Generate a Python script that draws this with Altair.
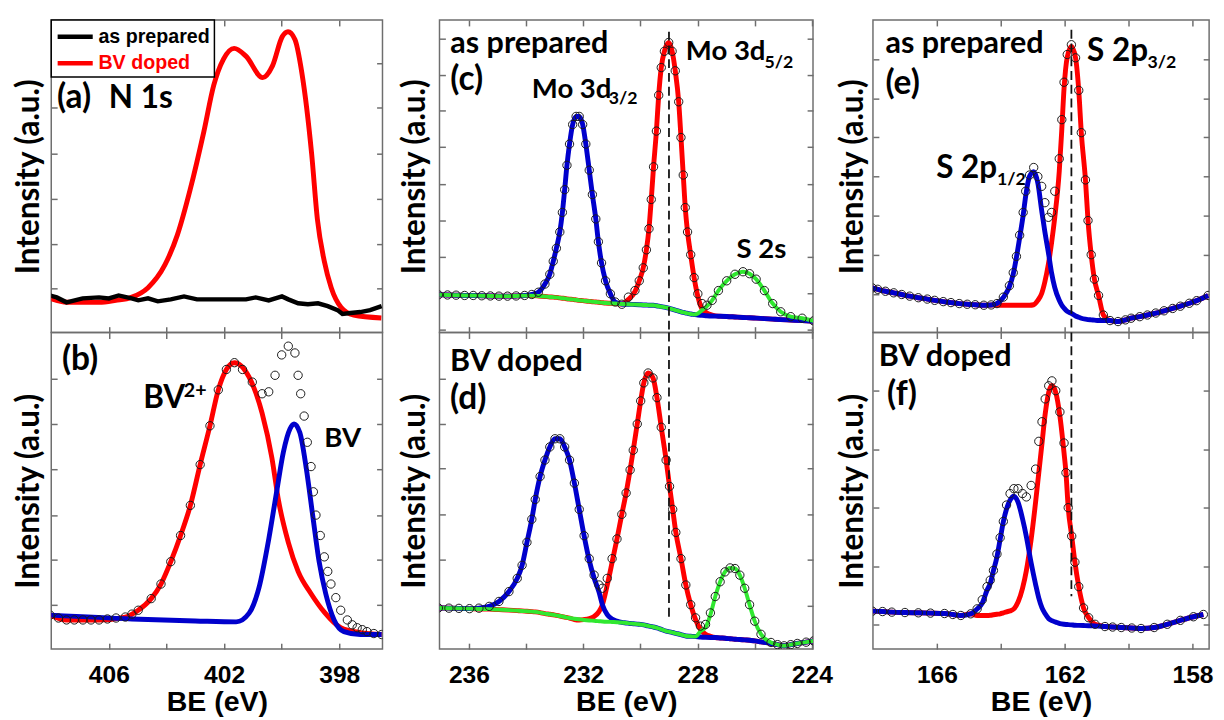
import altair as alt
import pandas as pd

# ---------------- (a) N 1s survey ----------------
a_prep_be = [408.04, 407.81, 407.47, 406.91, 406.34, 406.0, 405.66, 405.21, 404.98, 404.64, 404.30,
             403.85, 403.39, 402.94, 402.37, 401.81, 401.24, 400.90, 400.45, 399.99, 399.77, 399.43,
             399.09, 398.74, 398.40, 398.06, 397.89, 397.61, 397.27, 396.93, 396.53]
a_prep = [38, 36, 31, 35, 36, 35, 38, 35, 33, 35, 32, 34, 37, 34, 34, 34, 34, 36, 33, 37, 34, 30,
          29, 30, 27, 23, 19, 20, 21, 23, 27]
a_doped_be = [408.04, 407.46, 406.34, 405.76, 405.22, 404.64, 404.06, 403.62, 403.18, 402.70, 402.36,
              402.02, 401.65, 401.24, 400.66, 400.32, 399.98, 399.78, 399.54, 399.30, 398.96, 398.76,
              398.52, 398.28, 397.94, 397.50, 396.54]
a_doped = [35, 31, 31, 33, 36, 46, 69, 100, 146, 206, 253, 280, 291, 283, 261, 273, 303, 308, 300,
           266, 183, 116, 73, 46, 26, 18, 15]
a_series = ["as prepared", "BV doped"]

# ---------------- (b) N 1s fit ----------------
b_be = [408.04, 407.75, 407.47, 407.2, 406.9, 406.62, 406.34, 406.05, 405.75, 405.43, 405.2, 404.98,
        404.53, 404.19, 403.85, 403.51, 403.17, 402.83, 402.49, 402.20, 401.92, 401.64, 401.36, 401.02,
        400.68, 400.45, 400.23, 400.00, 399.77, 399.54, 399.43, 399.34, 399.22, 399.11, 398.98, 398.90,
        398.81, 398.66, 398.52, 398.40, 398.29, 398.12, 397.95, 397.72, 397.55, 397.38, 397.2, 397.04,
        396.8, 396.53]
b_data = [35, 32, 30, 30, 30, 30, 30, 31, 32, 33, 36, 40, 52, 67, 90, 117, 148, 190, 230, 267, 288,
          295, 288, 275, 263, 265, 282, 303, 312, 305, 282, 263, 240, 213, 188, 162, 138, 117, 95, 80,
          67, 53, 40, 30, 25, 22, 20, 18, 16, 15]
b_bv2_be = [408.04, 407.47, 406.34, 405.43, 404.98, 404.53, 404.19, 403.85, 403.51, 403.17, 402.83,
            402.49, 402.20, 401.92, 401.64, 401.13, 400.68, 400.34, 400.11, 399.77, 399.43, 398.98,
            398.52, 397.95, 397.27, 396.53]
b_bv2 = [35, 30, 30, 33, 40, 52, 67, 90, 117, 148, 190, 230, 267, 288, 295, 280, 243, 197, 153, 110,
         80, 57, 38, 22, 17, 15]
b_bv_be = [408.04, 405.2, 403.0, 401.58, 401.13, 400.79, 400.45, 400.17, 399.94, 399.71, 399.57,
           399.37, 399.15, 398.92, 398.70, 398.47, 398.18, 397.84, 397.27, 396.53]
b_bv = [35, 31, 29, 28, 37, 63, 113, 163, 203, 227, 232, 223, 187, 137, 90, 57, 30, 18, 15, 15]

# ---------------- (c) Mo 3d, as prepared ----------------
c_be = [237.07, 236.75, 236.45, 236.15, 235.85, 235.55, 235.25, 234.95, 234.65, 234.35, 234.05, 233.8,
        233.57, 233.34, 233.17, 233.05, 232.94, 232.82, 232.73, 232.65, 232.57, 232.48, 232.37, 232.25,
        232.14, 232.02, 231.91, 231.79, 231.68, 231.56, 231.47, 231.36, 231.22, 231.05, 230.88, 230.65,
        230.42, 230.19, 230.04, 229.90, 229.79, 229.70, 229.62, 229.54, 229.44, 229.36, 229.27, 229.16,
        229.01, 228.89, 228.78, 228.66, 228.58, 228.50, 228.43, 228.35, 228.24, 228.12, 227.99, 227.84,
        227.67, 227.49, 227.27, 226.98, 226.69, 226.41, 226.18, 225.95, 225.66, 225.37, 225.09, 224.74,
        224.34, 223.94]
c_data = [38.7, 38.5, 38.3, 38, 38, 37.7, 37.5, 37.3, 37.3, 37.5, 38, 39,
          41.3, 49.7, 59.7, 73, 86.3, 103, 123, 146.3, 171.3, 193, 213, 221.3, 221.3, 213, 193, 166.3,
          141.3, 116.3, 93, 71.3, 53, 39.7, 31.3, 29, 36.3, 43, 53, 66.3, 84.7, 106.3, 136.3, 169.7,
          206.3, 243, 271.3, 288, 297, 288, 268, 236.3, 199.7, 161.3, 128, 103, 79.7, 56.3, 39.7, 29.7,
          28, 33, 43, 53, 59.7, 62.3, 60.3, 54.7, 43, 29.7, 21.3, 16.3, 14.7, 12]
c_blue = [38.7, 38.5, 38.3, 38, 38, 37.7, 37.5, 37.3, 37.3, 37.5, 38, 39,
          41.3, 49.7, 59.7, 73, 86.3, 103, 123, 146.3, 171.3, 193, 213, 221.3, 221.3, 213, 193, 166.3,
          141.3, 116.3, 93, 71.3, 53, 39.7, 31.3,
          29.3, 29, 28.7, 28.5, 28.3, 28.2, 28, 28, 28, 27.5, 27, 26.5, 26, 25, 24, 23, 22, 21.3, 20.7,
          20.2, 19.7, 19, 18.5, 18, 17.7, 17.3, 17, 16.8, 16.5, 16, 15.5, 15.2, 14.8, 14.3, 13.8, 13.3,
          12.8, 12.2, 11.5]
c_red = [38.7, 38.5, 38.3, 38, 38, 37.7, 37.5, 37.3, 37.3, 37.5, 37.8, 37.8,
         37.5, 37, 36.5, 36.3, 36, 35.5, 35.2, 35, 34.5, 34.2, 34, 33.5, 33, 32.7, 32.3, 32, 31.6, 31.3,
         31, 30.7, 30.3, 30, 29.7,
         29.3, 34, 42,
         53, 66.3, 84.7, 106.3, 136.3, 169.7, 206.3, 243, 271.3, 288, 297, 288, 268, 236.3, 199.7, 161.3,
         128, 103, 79.7, 56.3,
         37, 24, 20, 18,
         16.8, 16.5, 16, 15.5, 15.2, 14.8, 14.3, 13.8, 13.3, 12.8, 12.2, 11.5]
c_green = [38.7, 38.5, 38.3, 38, 38, 37.7, 37.5, 37.3, 37.3, 37.5, 37.8, 37.8,
           37.5, 37, 36.5, 36.3, 36, 35.5, 35.2, 35, 34.5, 34.2, 34, 33.5, 33, 32.7, 32.3, 32, 31.6,
           31.3, 31, 30.7, 30.3, 30, 29.7, 29.3, 29, 28.7, 28.5, 28.3, 28.2, 28, 28, 28, 27.5, 27, 26.5,
           26, 25, 24, 23, 22, 21.3, 20.7, 20.2, 19.7, 19, 18.5,
           19.5, 23, 27,
           33, 43, 53, 59.7, 62.3, 60.3, 54.7, 43, 29.7, 21.3, 16.3, 14.7, 12]

# ---------------- (d) Mo 3d, BV doped ----------------
d_be = [237.07, 236.7, 236.35, 235.98, 235.65, 235.29, 234.95, 234.60, 234.31, 234.14, 233.97, 233.80,
        233.68, 233.51, 233.34, 233.17, 232.99, 232.82, 232.65, 232.48, 232.31, 232.14, 231.97, 231.79,
        231.62, 231.45, 231.33, 231.16, 230.99, 230.82, 230.65, 230.50, 230.36, 230.25, 230.11, 229.99,
        229.88, 229.73, 229.56, 229.42, 229.27, 229.10, 228.98, 228.87, 228.76, 228.58, 228.41, 228.24,
        228.07, 227.90, 227.72, 227.55, 227.38, 227.21, 227.04, 226.86, 226.69, 226.52, 226.35, 226.18,
        226.0, 225.78, 225.43, 225.2, 224.97, 224.74, 224.51, 224.2, 223.94]
d_data = [41.7, 41.5, 41.3, 41, 41.5, 43.3, 48.3, 58.3, 71.7, 85, 108.3, 131.7, 151.7, 175, 191.7, 205,
          213.3, 213.3, 205, 191.7, 168.3, 141.7, 115, 91.7, 75, 65, 61.7, 71.7, 91.7, 111.7, 136.7,
          158.3, 181.7, 201.7, 228.3, 251.7, 270, 280, 275, 255, 225, 191.7, 165, 141.7, 118.3, 91.7, 65,
          45, 31.7, 23.3, 25, 36.7, 53.3, 68.3, 78.3, 82.3, 81.7, 75, 61.7, 45, 28.3, 15, 6.7, 4.5, 3.3,
          4.5, 5.7, 7, 8.3]
d_blue = [41.7, 41.5, 41.3, 41, 41.5, 43.3, 48.3, 58.3, 71.7, 85, 108.3, 131.7, 151.7, 175, 191.7, 205,
          213.3, 213.3, 205, 191.7, 168.3, 141.7, 115, 90,
          72, 58, 45, 35, 30.5, 28.3,
          27, 26.5, 26, 25.7, 25.3, 25, 24.5, 23.5, 22.5, 21.5, 20, 18.3, 17.5, 16.8, 16, 14.7, 13.3, 13,
          12.7, 12.3, 12, 11.8, 11.7, 11.3, 11, 10.5, 10, 9.7, 9.3, 9, 8.3, 7.3, 5.7, 4.5, 3.3, 4.5, 5.7,
          7, 8.3]
d_red = [41.7, 41.5, 41.3, 41, 40.7, 40.5, 40, 39.5, 39, 38.7, 38.3, 38, 37.7, 37, 36, 35.3, 34.5, 33.5,
         32.5, 31.5,
         30, 29.5, 30, 31,
         33, 38, 45, 65, 88,
         111.7, 136.7, 158.3, 181.7, 201.7, 228.3, 251.7, 270, 280, 275, 255, 225, 191.7, 165, 141.7,
         118.3, 91.7, 65, 45,
         30, 20, 15, 13,
         11.7, 11.3, 11, 10.5, 10, 9.7, 9.3, 9, 8.3, 7.3, 5.7, 4.5, 3.3, 4.5, 5.7, 7, 8.3]
d_green = [41.7, 41.5, 41.3, 41, 40.7, 40.5, 40, 39.5, 39, 38.7, 38.3, 38, 37.7, 37, 36, 35.3, 34.5,
           33.5, 32.5, 31.5, 30.8, 30.2, 29.5, 29, 28.7, 28.3, 28, 27.7, 27.5, 27.3, 27, 26.5, 26, 25.7,
           25.3, 25, 24.5, 23.5, 22.5, 21.5, 20, 18.3, 17.5, 16.8, 16, 14.7, 13.3, 13, 12.7,
           18, 22, 35,
           53.3, 68.3, 78.3, 82.3, 81.7, 75, 61.7, 45, 28.3, 15, 6.7, 4.5, 3.3, 4.5, 5.7, 7, 8.3]

# ---------------- (e) S 2p, as prepared ----------------
e_be = [168.02, 167.85, 167.61, 167.35, 167.10, 166.85, 166.58, 166.3, 166.07, 165.8, 165.56, 165.3,
        165.05, 164.8, 164.53, 164.3, 164.12, 163.92, 163.73, 163.61, 163.51, 163.41, 163.30, 163.22,
        163.10, 162.97, 162.84, 162.72, 162.62, 162.51, 162.41, 162.31, 162.17, 162.09, 162.02, 161.92,
        161.79, 161.66, 161.56, 161.48, 161.35, 161.27, 161.17, 161.07, 160.94, 160.79, 160.58, 160.33,
        160.1, 159.92, 159.65, 159.41, 159.15, 158.89, 158.62, 158.38, 158.1, 157.87, 157.51]
e_data = [45.7, 44.3, 42.3, 40.7, 39, 37.3, 35.7, 34.3, 33, 31.7, 30.7, 29.7, 29, 28.5, 28, 28.3, 29.7,
          36.3, 48, 61.3, 78, 99.7, 123, 144.7, 161.3, 169, 159.7, 149.7, 133, 118, 123, 144.7, 178, 218,
          256.3, 284.7, 294.7, 281.3, 248, 204.7, 156.3, 114.7, 79.7, 54.7, 38, 18, 12.3, 11.3, 13, 14.7,
          16.3, 18, 20, 22.3, 24.7, 27, 30, 32.7, 38]
e_blue = [45.7, 44.3, 42.3, 40.7, 39, 37.3, 35.7, 34.3, 33, 31.7, 30.7, 29.7, 29, 28.5, 28, 28.3, 29.7,
          36, 47, 60, 77, 97, 120, 140, 160, 164.7, 153, 125, 103, 82, 61, 46, 33, 28, 25, 21.7, 19.7,
          17, 15.7, 14.7, 13.7, 13.3, 13, 12.7, 12.3, 12.3,
          12.3, 11.3, 13, 14.7, 16.3, 18, 20, 22.3, 24.7, 27, 30, 32.7, 38]
e_red = [45.7, 44.3, 42.3, 40.7, 39, 37.3, 35.7, 34.3, 33, 31.7, 30.7, 29.7, 29, 28.5, 28, 28.3,
         28, 28, 28, 28, 28, 28, 28, 28, 28, 28.5,
         33, 40, 52, 70, 92, 118, 165, 208, 250, 282, 293,
         281.3, 248, 204.7, 156.3, 114.7, 79.7, 54.7, 38, 18, 12.3, 11.3, 13, 14.7, 16.3, 18, 20, 22.3,
         24.7, 27, 30, 32.7, 38]

# ---------------- (f) S 2p, BV doped ----------------
f_be = [168.02, 167.7, 167.41, 167.0, 166.58, 166.2, 165.76, 165.5, 165.25, 164.94, 164.74, 164.58,
        164.43, 164.33, 164.23, 164.12, 164.02, 163.92, 163.82, 163.71, 163.59, 163.46, 163.32, 163.20,
        163.05, 162.91, 162.81, 162.71, 162.61, 162.50, 162.40, 162.28, 162.15, 162.02, 161.96, 161.89,
        161.78, 161.68, 161.56, 161.41, 161.25, 161.05, 160.74, 160.5, 160.23, 159.9, 159.61, 159.2,
        158.79, 158.38, 157.97, 157.66]
f_data = [38.7, 38.3, 37.7, 37.3, 37, 36.7, 36.3, 35.3, 34.3, 36, 41, 50.3, 63.7, 70.3, 80.3, 97, 113.7,
          130.3, 147, 158.7, 163.7, 163.7, 158.7, 155.3, 167, 183.7, 212, 232, 255.3, 268.7, 273.7, 263.7,
          242, 210.3, 180, 144.3, 115.3, 88.7, 63.7, 42, 32, 25.3, 23, 22.5, 22, 21.5, 21, 22, 25.3, 29.3,
          33, 35.3]
f_blue = [38.7, 38.3, 37.7, 37.3, 37, 36.7, 36.3, 35.3, 34.3, 36, 41,
          47, 60, 67, 80, 94, 112, 130, 143, 152, 156, 150, 133, 115, 88, 66, 52, 42, 36, 31, 29, 27.5,
          26, 25.3, 25.1, 25, 24.7, 24.3, 24.2, 24, 23.8, 23.7,
          23, 22.5, 22, 21.5, 21, 22, 25.3, 29.3, 33, 35.3]
f_red = [38.7, 38.3, 37.7, 37.3, 37, 36.7, 36.3, 35.3, 34.3, 36,
         34.3, 34.3, 34.3, 34.5, 35, 35.5, 36, 37, 38, 39, 41, 48, 62, 80, 112, 150, 180, 210, 240, 262,
         269, 262, 238, 200,
         180, 144.3, 115.3, 88.7, 63.7, 42, 32, 25.3, 23, 22.5, 22, 21.5, 21, 22, 25.3, 29.3, 33, 35.3]

# ---------------- reference (dashed) lines ----------------
ref_cd_be = 229.0
ref_c_span = [308, 0]
ref_d_span = [321, 32]
ref_ef_be = 161.79
ref_e_span = [310, 0]
ref_f_span = [323, 54]

# ---------------- annotations (label, BE, intensity) ----------------
notes_a = (["(a)", "N 1s"], [407.8, 406.0], [230, 230])
notes_b = (["(b)", "BV", "2+", "BV"], [407.63, 404.81, 403.40, 398.52], [287, 248, 260, 208])
notes_c = (["as prepared", "(c)", "Mo 3d", "3/2", "Mo 3d", "5/2", "S 2s"],
           [236.65, 236.65, 233.80, 231.11, 228.41, 225.66, 226.64],
           [286, 248, 240, 233.7, 278.7, 271.3, 76.3])
notes_d = (["BV doped", "(d)"], [236.66, 236.66], [281.7, 243.3])
notes_e = (["as prepared", "(e)", "S 2p", "3/2", "S 2p", "1/2"],
           [167.61, 167.61, 161.30, 159.41, 166.02, 164.12],
           [286.3, 244.7, 278, 271.3, 158, 151.3])
notes_f = (["BV doped", "(f)"], [167.82, 167.56], [288.7, 248.7])

# ---------------- styling ----------------
FRAME = "#6e6e6e"
RED = "#ff0000"
BLUE = "#0000cc"
GREEN = "#30e830"
TXT = "Lato"
AXF = "Liberation Sans"
TOP_H, BOT_H = 318, 322


def y_axis(orient, ticks, tpad=8):
    kw = dict(orient=orient, values=ticks, labels=False, domain=False, grid=False, ticks=True,
              tickSize=6, offset=-6, tickColor=FRAME, tickWidth=1.5)
    if orient == "left":
        kw.update(title="Intensity (a.u.)", titleFont=TXT, titleFontSize=32, titleFontWeight="bold",
                  titleColor="black", titlePadding=tpad)
    else:
        kw.update(title=None)
    return alt.Axis(**kw)


def x_axis(orient, ticks, rem, show):
    kw = dict(orient=orient, values=ticks, domain=False, grid=False, ticks=True, tickSize=6, offset=-6,
              tickColor=FRAME, tickWidth=1.5)
    if show:
        kw.update(labels=True, labelExpr=f"datum.value % 4 == {rem} ? datum.label : ''",
                  labelFont=AXF, labelFontSize=25, labelFontWeight="bold", labelColor="black",
                  labelPadding=14, labelFlush=False, labelOverlap=False,
                  title="BE (eV)", titleFont=AXF, titleFontSize=29, titleFontWeight="bold",
                  titleColor="black", titlePadding=1)
    else:
        kw.update(labels=False, title=None)
    return alt.Axis(**kw)


def enc(xs, ys, xa=None, ya=None):
    return dict(x=alt.X("be:Q", scale=xs, axis=xa), y=alt.Y("v:Q", scale=ys, axis=ya))


def note_size(t):
    if t.startswith("("):
        return 34
    if t in ("as prepared", "BV doped"):
        return 31
    if "/" in t:
        return 18
    if t == "2+":
        return 20
    if t in ("N 1s", "S 2p"):
        return 32
    return 28


def panel(xdom, ydom, xticks, rem, yticks, bottom, w, h, lines, pts, notes, ref=None, extra=None, tpad=8,
          big_bv=False):
    xs = alt.Scale(domain=xdom, nice=False, zero=False)
    ys = alt.Scale(domain=ydom, nice=False, zero=False)
    layers = []
    if extra is not None:
        layers.extend(extra(xs, ys))
    for be, v, col, sw in lines:
        df = pd.DataFrame({"be": be, "v": v})
        layers.append(alt.Chart(df).mark_line(color=col, strokeWidth=sw, interpolate="monotone",
                                              clip=True).encode(**enc(xs, ys)))
    if ref is not None:
        rbe, span = ref
        rdf = pd.DataFrame({"be": [rbe], "v": [span[0]], "v2": [span[1]]})
        layers.append(alt.Chart(rdf).mark_rule(color="#111", strokeWidth=1.8, strokeDash=[9, 5]).encode(
            x=alt.X("be:Q", scale=xs, axis=None), y=alt.Y("v:Q", scale=ys, axis=None), y2="v2:Q"))
    if pts is not None:
        pdf = pd.DataFrame({"be": pts[0], "v": pts[1]})
        layers.append(alt.Chart(pdf).mark_point(shape="circle", filled=False, size=72, color="#1a1a1a",
                                                strokeWidth=1, opacity=1, clip=True)
                      .encode(**enc(xs, ys)))
    labels, nbe, nv = notes

    def size_of(i):
        t = labels[i]
        if big_bv and t == "BV" and i == 1:
            return 32
        return note_size(t)

    sizes = sorted(set(size_of(i) for i in range(len(labels))))
    for s in sizes:
        idx = [i for i in range(len(labels)) if size_of(i) == s]
        ndf = pd.DataFrame({"be": [nbe[i] for i in idx], "v": [nv[i] for i in idx],
                            "t": [labels[i] for i in idx]})
        layers.append(alt.Chart(ndf).mark_text(align="left", baseline="alphabetic", font=TXT,
                                               fontSize=s, fontWeight="bold", color="black")
                      .encode(text="t:N", **enc(xs, ys)))
    # axis carriers
    cdf = pd.DataFrame({"be": [xdom[0]], "v": [ydom[0]]})
    layers.append(alt.Chart(cdf).mark_point(opacity=0).encode(
        **enc(xs, ys, x_axis("bottom", xticks, rem, bottom), y_axis("left", yticks, tpad))))
    layers.append(alt.Chart(cdf).mark_point(opacity=0).encode(
        **enc(xs, ys, x_axis("top", xticks, rem, False), y_axis("right", yticks))))
    return alt.layer(*layers).resolve_axis(x="independent", y="independent").properties(width=w, height=h)


def survey_layers(xs, ys):
    cscale = alt.Scale(domain=a_series, range=["#000000", RED])
    prep = pd.DataFrame({"be": a_prep_be, "v": a_prep, "s": a_series[0]})
    doped = pd.DataFrame({"be": a_doped_be, "v": a_doped, "s": a_series[1]})
    leg = alt.Legend(title=None, orient="top-left", offset=0, symbolType="M-1,0H2.4",
                     symbolStrokeWidth=4.5, symbolSize=441, labelFont=AXF, labelFontSize=20,
                     labelFontWeight="bold",
                     labelColor=alt.ExprRef(expr="datum.label == 'BV doped' ? '#ff0000' : '#000000'"),
                     rowPadding=4, labelOffset=18, padding=4)
    l_red = alt.Chart(doped).mark_line(strokeWidth=5, interpolate="monotone", clip=True).encode(
        x=alt.X("be:Q", scale=xs, axis=None), y=alt.Y("v:Q", scale=ys, axis=None),
        color=alt.Color("s:N", scale=cscale, legend=leg))
    l_blk = alt.Chart(prep).mark_line(strokeWidth=4.5, interpolate="linear", clip=True).encode(
        x=alt.X("be:Q", scale=xs, axis=None), y=alt.Y("v:Q", scale=ys, axis=None),
        color=alt.Color("s:N", scale=cscale, legend=leg))
    return [l_red, l_blk]


col1_w, col2_w, col3_w = 337, 380, 342
xab = [408.0, 396.5]
xcd = [237.03, 223.96]
xef = [168.0, 157.48]
t_ab = [406, 404, 402, 400, 398]
t_cd = [236, 234, 232, 230, 228, 226, 224]
t_ef = [166, 164, 162, 160, 158]

pa = panel(xab, [0, 320], t_ab, 2, [45, 91, 137, 183, 230, 276], False, col1_w, TOP_H,
           [], None, notes_a, extra=survey_layers, tpad=5)
pb = panel(xab, [0, 326], t_ab, 2, [46, 92, 138, 185, 232, 278], True, col1_w, BOT_H,
           [(b_bv2_be, b_bv2, RED, 5), (b_bv_be, b_bv, BLUE, 5)], (b_be, b_data), notes_b, tpad=5,
           big_bv=True)
pc = panel(xcd, [0, 320], t_cd, 0, [3, 40, 77, 115, 152, 190, 227, 264, 301], False, col2_w, TOP_H,
           [(c_be, c_red, RED, 5), (c_be, c_blue, BLUE, 5), (c_be, c_green, GREEN, 4)],
           (c_be, c_data), notes_c, ref=(ref_cd_be, ref_c_span))
pd_ = panel(xcd, [0, 321], t_cd, 0, [44, 91, 137, 183, 228, 274], True, col2_w, BOT_H,
            [(d_be, d_red, RED, 5), (d_be, d_blue, BLUE, 5), (d_be, d_green, GREEN, 4)],
            (d_be, d_data), notes_d, ref=(ref_cd_be, ref_d_span))
pe = panel(xef, [0, 320], t_ef, 2, [39, 79, 120, 160, 200, 240, 280], False, col3_w, TOP_H,
           [(e_be, e_red, RED, 5), (e_be, e_blue, BLUE, 5)], (e_be, e_data), notes_e,
           ref=(ref_ef_be, ref_e_span), tpad=3)
pf = panel(xef, [0, 323], t_ef, 2, [25, 84, 144, 204, 264], True, col3_w, BOT_H,
           [(f_be, f_red, RED, 5), (f_be, f_blue, BLUE, 5)], (f_be, f_data), notes_f,
           ref=(ref_ef_be, ref_f_span), tpad=3)

res = dict(x="independent", y="independent", color="independent")
col1 = alt.vconcat(pa, pb, spacing=0, bounds="flush").resolve_scale(**res)
col2 = alt.vconcat(pc, pd_, spacing=0, bounds="flush").resolve_scale(**res)
col3 = alt.vconcat(pe, pf, spacing=0, bounds="flush").resolve_scale(**res)
right = alt.hconcat(col2, col3, spacing=2).resolve_scale(**res)
chart = (alt.hconcat(col1, right, spacing=13).resolve_scale(**res)
         .properties(padding={"left": 4, "top": 4, "right": 2, "bottom": 0})
         .configure_view(stroke=FRAME, strokeWidth=1.5)
         .configure_legend(strokeColor="#000000", strokeWidth=1.5, fillColor="#ffffff",
                           cornerRadius=0))

chart.save("out.html", embed_options={"renderer": "svg", "actions": False})
